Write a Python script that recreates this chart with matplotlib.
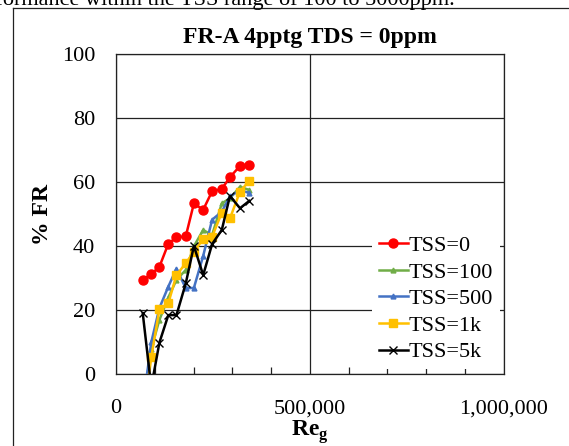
import matplotlib

matplotlib.use("Agg")
import matplotlib.pyplot as plt
from matplotlib.lines import Line2D
from matplotlib.ticker import FuncFormatter, MultipleLocator

# Gas Reynolds number of each run (shared by all series)
re_g = [69000, 91000, 112000, 135000, 156000, 180000, 201000, 225000, 248000,
        273000, 294000, 320000, 344000]
# % friction reduction per TSS level
fr_tss_0 = [29.5, 31.3, 33.6, 40.8, 42.8, 43.1, 53.4, 51.4, 57.2, 57.9, 61.6, 65.1, 65.5]
fr_tss_100 = [-10, 8, 17, 24, 29.5, 32.6, 40, 45.1, 43.5, 53.4, 55, 58.6, 57.6]
fr_tss_500 = [-10, 10, 20.7, 27.4, 33, 26.9, 27, 37, 48.3, 50.8, 55.6, 57.5, 56.7]
fr_tss_1k = [-15, 5.3, 20.3, 22.2, 31, 34.7, 38.3, 42.3, 43, 50.5, 48.7, 57.1, 60.5]
fr_tss_5k = [19.1, -4, 9.9, 18.5, 18.5, 28.4, 40.1, 31, 40.7, 45.1, 55.7, 51.9, 54.2]
labels = ["TSS=0", "TSS=100", "TSS=500", "TSS=1k", "TSS=5k"]


def make_plots():
    plt.rcParams["font.family"] = ["Liberation Serif", "DejaVu Serif"]
    plt.rcParams["mathtext.fontset"] = "custom"
    plt.rcParams["mathtext.rm"] = "Liberation Serif"
    plt.rcParams["mathtext.bf"] = "Liberation Serif:bold"

    W, H = 569, 446
    fig = plt.figure(figsize=(W / 100, H / 100), dpi=100)
    ax = fig.add_axes([116 / W, 1 - 374.3 / H, 387.5 / W, 320 / H])

    # Series styles
    series = [
        (fr_tss_0, "#FF0000", "o", 6.5),
        (fr_tss_100, "#70AD47", "^", 3.5),
        (fr_tss_500, "#4472C4", "^", 3.5),
        (fr_tss_1k, "#FFC000", "s", 6),
        (fr_tss_5k, "#000000", "x", 6),
    ]
    for (vals, color, marker, ms), label in zip(series, labels):
        ax.plot(re_g, vals, color=color, marker=marker, markersize=ms, lw=1.8,
                markeredgewidth=1.0, label=label, zorder=3)

    ax.set_xlim(0, 1000000)
    ax.set_ylim(0, 100)
    ax.xaxis.set_major_locator(MultipleLocator(500000))
    ax.xaxis.set_minor_locator(MultipleLocator(100000))
    ax.yaxis.set_major_locator(MultipleLocator(20))
    ax.xaxis.set_major_formatter(FuncFormatter(lambda v, p: f"{v:,.0f}"))
    ax.grid(True, which="major", color="#222222", lw=0.9)
    ax.set_axisbelow(True)
    for s in ax.spines.values():
        s.set_color("#222222")
        s.set_linewidth(0.9)
    ax.tick_params(axis="both", which="major", length=0, labelsize=16, pad=15)
    ax.tick_params(axis="x", which="minor", direction="in", length=5,
                   width=0.9, color="#222222")
    ax.tick_params(axis="x", which="major", pad=18)

    ax.set_title("FR-A 4pptg TDS = 0ppm", fontsize=17, fontweight="bold", pad=8)
    ax.set_ylabel("% FR", fontsize=17, fontweight="bold", labelpad=6)
    ax.set_xlabel(r"$\mathbf{Re}_{\mathbf{g}}$", fontsize=17, labelpad=0)

    leg = ax.legend(loc="lower right", bbox_to_anchor=(500 / W, 1 - 369 / H),
                    bbox_transform=fig.transFigure, fontsize=16, frameon=True,
                    edgecolor="none", facecolor="white", framealpha=1,
                    fancybox=False, borderaxespad=0, handlelength=1.3,
                    handletextpad=0.05, labelspacing=0.27, borderpad=0.3)
    leg.set_zorder(5)

    # Page context: frame around the chart and the clipped text line above it
    fig.add_artist(Line2D([13 / W, 13 / W], [0, 1 - 8 / H], color="#222222", lw=0.9))
    fig.add_artist(Line2D([13 / W, 1], [1 - 8 / H, 1 - 8 / H], color="#222222", lw=0.9))
    fig.text(455 / W, 1 - 5 / H, "performance within the TSS range of 100 to 5000ppm.",
             ha="right", va="baseline", fontsize=16)

    fig.savefig("out.png", dpi=100)


if __name__ == "__main__":
    make_plots()
